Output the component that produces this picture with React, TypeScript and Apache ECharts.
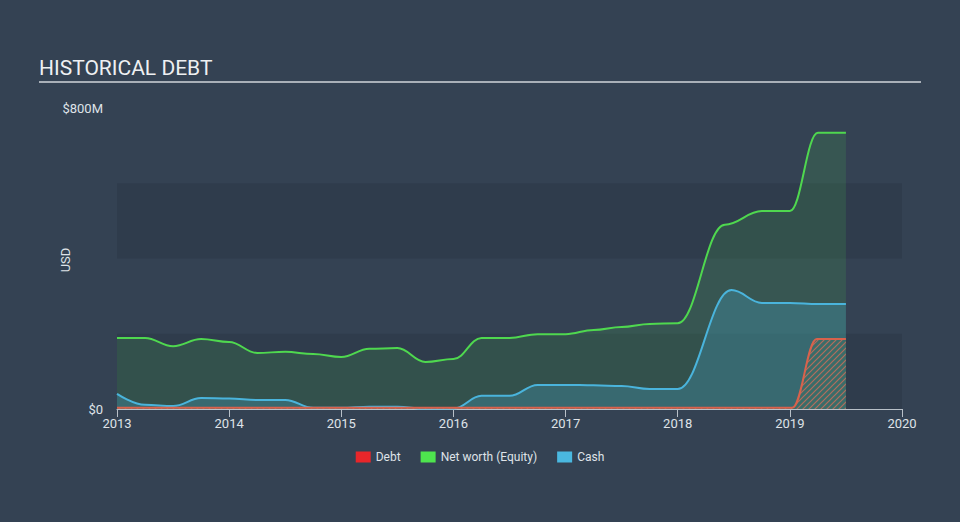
import React, { useEffect, useRef } from "react";
import * as echarts from "echarts";

// values in millions USD, x in fractional years
const netWorthDates = [
  2013.0, 2013.25, 2013.5, 2013.75, 2014.0, 2014.25, 2014.5, 2014.75,
  2015.0, 2015.25, 2015.5, 2015.75, 2016.0, 2016.25, 2016.5, 2016.75,
  2017.0, 2017.25, 2017.5, 2017.75, 2018.0, 2018.42, 2018.75,
  2019.0, 2019.25, 2019.5,
];
const netWorth = [
  189, 189, 167, 186, 178, 149, 152, 146,
  138, 160, 162, 125, 133, 189, 189, 199,
  199, 210, 218, 226, 228, 490, 526,
  526, 734, 734,
];
const cashDates = [
  2013.0, 2013.25, 2013.5, 2013.75, 2014.0, 2014.25, 2014.5, 2014.75,
  2015.0, 2015.25, 2015.5, 2015.75, 2016.0, 2016.25, 2016.5, 2016.75,
  2017.0, 2017.25, 2017.5, 2017.75, 2018.0, 2018.48, 2018.75,
  2019.0, 2019.25, 2019.5,
];
const cash = [
  40, 11, 8, 29, 28, 24, 24, 3,
  3, 6, 6, 1, 1, 35, 35, 64,
  64, 63, 61, 53, 53, 316, 282,
  282, 279, 279,
];
const debtDates = [
  2013.0, 2013.5, 2014.0, 2014.5, 2015.0, 2015.5, 2016.0, 2016.5,
  2017.0, 2017.5, 2018.0, 2018.5, 2019.02, 2019.24, 2019.5,
];
const debt = [
  3, 3, 3, 3, 3, 3, 3, 3,
  3, 3, 3, 3, 3, 186, 186,
];
const xTicks = [2013, 2014, 2015, 2016, 2017, 2018, 2019, 2020];
const yLabels: Record<number, string> = { 0: "$0", 800: "$800M" };

function pairs(xs: number[], ys: number[]) {
  return xs.map((x, i) => [x, ys[i]]);
}

function makeHatch(): HTMLCanvasElement {
  const c = document.createElement("canvas");
  c.width = 6;
  c.height = 6;
  const ctx = c.getContext("2d")!;
  ctx.fillStyle = "rgba(60,110,100,0.6)";
  ctx.fillRect(0, 0, 6, 6);
  ctx.strokeStyle = "rgba(220,110,90,0.75)";
  ctx.lineWidth = 1.2;
  ctx.beginPath();
  ctx.moveTo(-1, 7);
  ctx.lineTo(7, -1);
  ctx.moveTo(-4, 4);
  ctx.lineTo(4, -4);
  ctx.moveTo(2, 10);
  ctx.lineTo(10, 2);
  ctx.stroke();
  return c;
}

export default function App() {
  const ref = useRef<HTMLDivElement>(null);
  useEffect(() => {
    if (!ref.current) return;
    const chart = echarts.init(ref.current, undefined, { renderer: "svg" });
    const hatch = makeHatch();
    const font = "Roboto, 'Noto Sans', sans-serif";
    chart.setOption({
      animation: false,
      backgroundColor: "#344253",
      textStyle: { fontFamily: font },
      graphic: [
        {
          type: "text",
          left: 39,
          top: 57,
          style: {
            text: "HISTORICAL DEBT",
            fill: "#eef0f2",
            font: `21px ${font}`,
          },
        },
        {
          type: "line",
          shape: { x1: 39, y1: 82, x2: 921, y2: 82 },
          style: { stroke: "#a9b0b8", lineWidth: 2 },
        },
        {
          type: "text",
          x: 65,
          y: 260,
          rotation: Math.PI / 2,
          style: {
            text: "USD",
            fill: "#dfe3e8",
            font: `13px ${font}`,
            align: "center",
            verticalAlign: "middle",
          },
        },
      ],
      grid: { left: 117, right: 58, top: 108, bottom: 113 },
      legend: {
        top: 446,
        left: "center",
        icon: "rect",
        itemWidth: 15,
        itemHeight: 11,
        itemGap: 20,
        data: ["Debt", "Net worth (Equity)", "Cash"],
        textStyle: { color: "#dfe3e8", fontSize: 12, fontFamily: font },
      },
      xAxis: {
        type: "value",
        min: 2013,
        max: 2020,
        interval: 1,
        axisLine: { show: true, lineStyle: { color: "#b8c0c8", width: 1 } },
        axisTick: { show: true, length: 8, lineStyle: { color: "#b8c0c8" } },
        axisLabel: {
          color: "#dfe3e8",
          fontSize: 13,
          margin: 8,
          formatter: (v: number) => (xTicks.includes(v) ? String(v) : ""),
        },
        splitLine: { show: false },
      },
      yAxis: {
        type: "value",
        min: 0,
        max: 800,
        interval: 200,
        axisLine: { show: false },
        axisTick: { show: false },
        axisLabel: {
          color: "#dfe3e8",
          fontSize: 13,
          margin: 14,
          formatter: (v: number) => yLabels[v] ?? "",
        },
        splitLine: { show: false },
        splitArea: {
          show: true,
          areaStyle: { color: ["rgba(30,40,55,0.22)", "rgba(0,0,0,0)"] },
        },
      },
      series: [
        {
          name: "Net worth (Equity)",
          type: "line",
          data: pairs(netWorthDates, netWorth),
          smooth: 0.4,
          smoothMonotone: "x",
          showSymbol: false,
          itemStyle: { color: "#4ee44e" },
          lineStyle: { color: "#4fd84f", width: 2 },
          areaStyle: { color: "rgba(76,216,76,0.2)" },
          z: 2,
        },
        {
          name: "Cash",
          type: "line",
          data: pairs(cashDates, cash),
          smooth: 0.4,
          smoothMonotone: "x",
          showSymbol: false,
          itemStyle: { color: "#4ab8e0" },
          lineStyle: { color: "#4ab4dc", width: 2 },
          areaStyle: { color: "rgba(72,180,220,0.25)", opacity: 1 },
          z: 3,
        },
        {
          name: "Debt",
          type: "line",
          data: pairs(debtDates, debt),
          smooth: 0.4,
          smoothMonotone: "x",
          showSymbol: false,
          itemStyle: { color: "#e8262a" },
          lineStyle: { color: "#d8624c", width: 2 },
          areaStyle: { color: { image: hatch, repeat: "repeat" }, opacity: 1 },
          z: 4,
        },
      ],
    });
    return () => chart.dispose();
  }, []);
  return (
    <div
      ref={ref}
      style={{ position: "absolute", left: 0, top: 0, width: 960, height: 522 }}
    />
  );
}
